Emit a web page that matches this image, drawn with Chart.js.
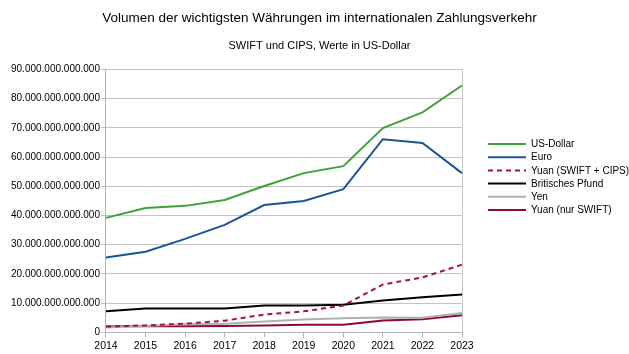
<!DOCTYPE html>
<html>
<head>
<meta charset="utf-8">
<script src="https://cdn.jsdelivr.net/npm/chart.js@4.4.0/dist/chart.umd.min.js"></script>
<style>
  html, body { margin: 0; padding: 0; background: #fff; }
  #wrap { width: 629px; height: 354px; }
</style>
</head>
<body>
<div id="wrap"><canvas id="grafico"></canvas></div>
<script>
var jahre = ['2014','2015','2016','2017','2018','2019','2020','2021','2022','2023'];
var usDollar = [39.2e12, 42.6e12, 43.3e12, 45.3e12, 50.1e12, 54.5e12, 56.9e12, 69.9e12, 75.3e12, 84.5e12];
var euro = [25.6e12, 27.6e12, 32.0e12, 36.8e12, 43.6e12, 45.0e12, 49.0e12, 66.1e12, 64.8e12, 54.5e12];
var yuanGesamt = [2.0e12, 2.4e12, 3.0e12, 4.0e12, 6.1e12, 7.2e12, 9.2e12, 16.4e12, 18.8e12, 23.2e12];
var pfund = [7.2e12, 8.2e12, 8.2e12, 8.2e12, 9.2e12, 9.2e12, 9.5e12, 10.9e12, 12.0e12, 13.0e12];
var yen = [1.7e12, 2.2e12, 2.8e12, 3.0e12, 3.7e12, 4.4e12, 4.8e12, 5.1e12, 5.0e12, 6.6e12];
var yuanSwift = [2.0e12, 2.2e12, 2.1e12, 2.2e12, 2.4e12, 2.6e12, 2.6e12, 4.1e12, 4.5e12, 5.9e12];

var titel = 'Volumen der wichtigsten Währungen im internationalen Zahlungsverkehr';
var untertitel = 'SWIFT und CIPS, Werte in US-Dollar';

var schrift = '"Liberation Sans", Arial, sans-serif';

function formatDe(v) {
    return String(Math.round(v)).replace(/\B(?=(\d{3})+(?!\d))/g, '.');
}

function linie(label, data, farbe, dash) {
    return {
        label: label,
        data: data,
        borderColor: farbe,
        backgroundColor: farbe,
        borderWidth: 2,
        borderDash: dash || [],
        pointRadius: 0,
        tension: 0,
        fill: false
    };
}

// legende rechts selbst zeichnen (eingebaute legende laesst keinen abstand zum plot zu)
var legendePlugin = {
    id: 'legendeRechts',
    afterDraw: function (chart) {
        var c = chart.ctx;
        var x0 = chart.chartArea.right + 26;
        var y0 = 144;
        c.save();
        c.font = '10px ' + schrift;
        c.textBaseline = 'middle';
        c.textAlign = 'left';
        chart.data.datasets.forEach(function (ds, i) {
            var y = y0 + i * 13.2;
            c.beginPath();
            c.strokeStyle = ds.borderColor;
            c.lineWidth = 2;
            c.setLineDash(ds.borderDash || []);
            c.moveTo(x0, y);
            c.lineTo(x0 + 38, y);
            c.stroke();
            c.setLineDash([]);
            c.fillStyle = '#000';
            c.fillText(ds.label, x0 + 43, y + 0.5);
        });
        c.restore();
    }
};

var ctx = document.getElementById('grafico').getContext('2d');
var myChart = new Chart(ctx, {
    type: 'line',
    data: {
        labels: jahre,
        datasets: [
            linie('US-Dollar', usDollar, '#3da23a'),
            linie('Euro', euro, '#1c5497'),
            linie('Yuan (SWIFT + CIPS)', yuanGesamt, '#a3133f', [5, 4]),
            linie('Britisches Pfund', pfund, '#000000'),
            linie('Yen', yen, '#b0b0b0'),
            linie('Yuan (nur SWIFT)', yuanSwift, '#8e0a33')
        ]
    },
    options: {
        responsive: true,
        maintainAspectRatio: false,
        animation: false,
        layout: { padding: { left: 10, right: 0, top: 10, bottom: 0 } },
        plugins: {
            title: {
                display: true,
                text: titel,
                color: '#000',
                font: { family: schrift, size: 13.5, weight: 'normal' },
                padding: { top: 0, bottom: 13 }
            },
            subtitle: {
                display: true,
                text: untertitel,
                color: '#000',
                font: { family: schrift, size: 11, weight: 'normal' },
                padding: { top: 0, bottom: 17 }
            },
            legend: { display: false },
            tooltip: { enabled: false }
        },
        scales: {
            x: {
                offset: false,
                grid: {
                    drawOnChartArea: true,
                    color: function (c) {
                        return (c.index === jahre.length - 1) ? '#c8c8c8' : 'transparent';
                    },
                    tickColor: '#b3b3b3',
                    tickLength: 5
                },
                border: { color: '#b3b3b3' },
                ticks: {
                    color: '#000',
                    font: { family: schrift, size: 10.5 },
                    maxRotation: 0,
                    padding: 2
                }
            },
            y: {
                min: 0,
                max: 90e12,
                grid: { color: '#c4c4c4', tickLength: 5 },
                border: { color: '#b3b3b3' },
                ticks: {
                    stepSize: 10e12,
                    color: '#000',
                    font: { family: schrift, size: 10 },
                    padding: 1,
                    callback: function (v) { return formatDe(v); }
                }
            },
            // leere achse rechts, haelt platz fuer die legende frei
            platz: {
                type: 'linear',
                position: 'right',
                display: true,
                grid: { display: false },
                border: { display: false },
                ticks: { display: false },
                afterFit: function (s) { s.width = 167; }
            }
        }
    },
    plugins: [legendePlugin]
});
</script>
</body>
</html>
